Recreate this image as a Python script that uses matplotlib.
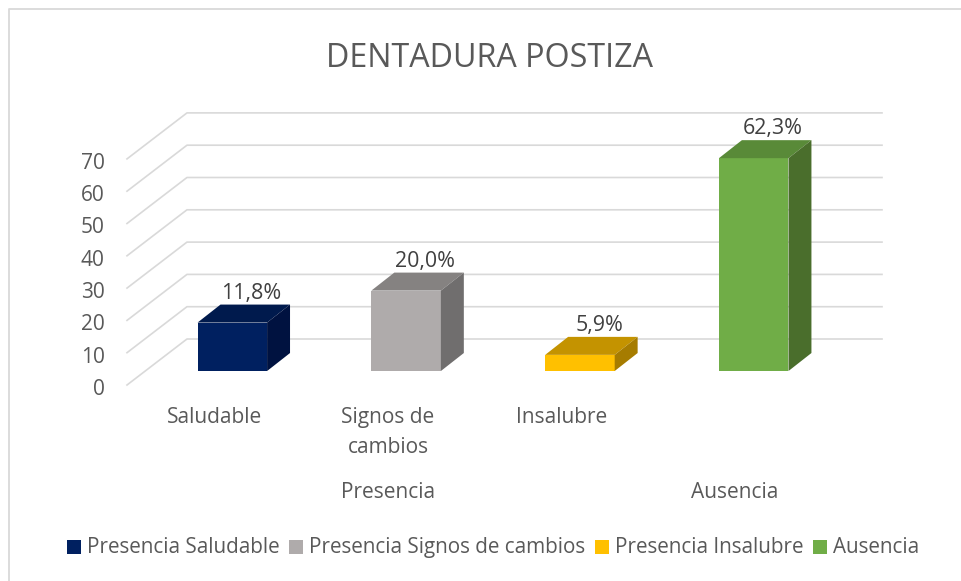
import matplotlib
matplotlib.use('Agg')
import matplotlib.pyplot as plt
from matplotlib.patches import Polygon, Rectangle
from matplotlib.lines import Line2D
from matplotlib.transforms import ScaledTranslation

W, H = 961, 581

categories = ['Saludable', 'Signos de\ncambios', 'Insalubre', '']
groups = ['Presencia', 'Ausencia']
legend_labels = ['Presencia Saludable', 'Presencia Signos de cambios', 'Presencia Insalubre', 'Ausencia']
heights = [15.0, 24.9, 5.0, 65.9]
value_labels = ['11,8%', '20,0%', '5,9%', '62,3%']
yticks = [0, 10, 20, 30, 40, 50, 60, 70]
front = ['#002060', '#AFABAB', '#FFC000', '#70AD47']
top = ['#001A4D', '#858281', '#C49300', '#598A38']
side = ['#001240', '#706E6E', '#A67C00', '#4A6E2C']

TEXT = '#595959'
GRID = '#D9D9D9'
plt.rcParams['font.family'] = ['Open Sans', 'DejaVu Sans']


def px(x, y):
    return x / W, 1 - y / H


fig = plt.figure(figsize=(W / 100, H / 100), dpi=100)
fig.patch.set_facecolor('white')

# chart border, only top and left are inside the crop
fig.add_artist(Line2D([8.5 / W, 8.5 / W, 1], [0, 1 - 9 / H, 1 - 9 / H], transform=fig.transFigure,
                      color=GRID, lw=1.3))

ax = fig.add_axes([127 / W, 1 - 385 / H, 755 / W, 271 / H])
ax.set_xlim(-0.606, 3.738)
ax.set_ylim(0, 83.9)
ax.patch.set_alpha(0)
for s in ax.spines.values():
    s.set_visible(False)
ax.set_xticks([])
ax.set_yticks(yticks)
ax.tick_params(axis='y', length=0, pad=16, labelsize=15, labelcolor=TEXT)
nudge = ScaledTranslation(0, -2 / 100, fig.dpi_scale_trans)
for t in ax.get_yticklabels():
    t.set_transform(t.get_transform() + nudge)

# oblique depth, in axis units
grid_dx, grid_dy = 0.345, 14.24
bar_dx, bar_dy = 0.132, 5.57
base = 4.33
bar_w = 0.4

for v in yticks:
    ax.plot([-0.606, -0.606 + grid_dx, 3.738], [v, v + grid_dy, v + grid_dy],
            color=GRID, lw=1.2, zorder=1, clip_on=False)

xs = list(range(len(heights)))
ax.bar(xs, heights, bar_w, bottom=base, color=front, zorder=3)
for x, h, t, sd, lab in zip(xs, heights, top, side, value_labels):
    l, r, y = x - bar_w / 2, x + bar_w / 2, base + h
    ax.add_patch(Polygon([(l, y), (r, y), (r + bar_dx, y + bar_dy), (l + bar_dx, y + bar_dy)],
                         color=t, zorder=3, lw=0))
    ax.add_patch(Polygon([(r, base), (r + bar_dx, base + bar_dy), (r + bar_dx, y + bar_dy), (r, y)],
                         color=sd, zorder=3, lw=0))
    ax.text(x + 0.11, y + bar_dy + 0.3, lab, ha='center', va='bottom', fontsize=15.4, color='#404040', zorder=4)

fig.text(*px(489.5, 58.5), 'DENTADURA POSTIZA', ha='center', va='center', fontsize=23.2, color=TEXT)

for cx, lab in zip([214.5, 388, 562], categories):
    fig.text(*px(cx, 407), lab, ha='center', va='top', fontsize=15, color=TEXT, linespacing=1.57)
for cx, lab in zip([388, 735], groups):
    fig.text(*px(cx, 492), lab, ha='center', va='center', fontsize=15, color=TEXT)

# legend placed by hand, the spacing in the reference is uneven
for sx, tx, c, lab in zip([67, 289, 595, 813], [87, 308.6, 614.8, 833], front, legend_labels):
    fig.add_artist(Rectangle(px(sx, 554), 14 / W, 14 / H, transform=fig.transFigure, color=c, lw=0))
    fig.text(*px(tx, 553), lab, ha='left', va='baseline', fontsize=14.9, color=TEXT)

fig.savefig('out.png', dpi=100)
